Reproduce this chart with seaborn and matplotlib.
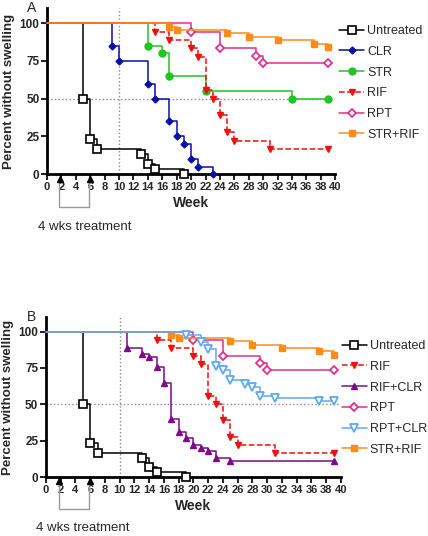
# Kaplan-Meier style curves: percent of mice without footpad swelling
import seaborn as sns
import pandas as pd
import matplotlib.pyplot as plt
import numpy as np

sns.set_style('white')
plt.rcParams['font.family'] = ['Liberation Sans', 'DejaVu Sans']

# ---- data (weeks, percent without swelling) ----
untreated_wk = [0, 5, 6, 7, 13, 14, 15, 19]
untreated_pct = [100, 50, 23.3, 16.7, 13.3, 6.7, 3.3, 0]

clr_wk = [0, 9, 10, 14, 15, 17, 18, 19, 20, 21, 23]
clr_pct = [100, 85, 75, 60, 50, 35, 25, 20, 10, 5, 0]

str_wk = [0, 14, 16, 17, 22, 34, 39]
str_pct = [100, 85, 80, 65, 55, 50, 50]

rif_wk = [0, 15, 17, 20, 21, 22, 23, 24, 25, 26, 31, 39]
rif_pct = [100, 94.4, 88.9, 83.3, 77.8, 55.6, 50, 38.9, 27.8, 22.2, 16.7, 16.7]

rpt_wk = [0, 20, 24, 29, 30, 39]
rpt_pct = [100, 94.4, 83.3, 78.5, 73.3, 73.3]

strrif_wk = [0, 17, 18, 25, 28, 32, 37, 39]
strrif_pct = [100, 97.7, 95.5, 93.2, 90.9, 88.6, 86.4, 84.1]

rifclr_wk = [0, 11, 13, 14, 15, 16, 17, 18, 19, 20, 21, 22, 23, 25, 39]
rifclr_pct = [100, 88.9, 84.4, 82.2, 75.6, 64.4, 40, 31.1, 26.7, 22.2, 20, 17.8, 13.3, 11.1, 11.1]

rptclr_wk = [0, 19, 21, 22, 23, 24, 25, 27, 28, 29, 31, 37, 39]
rptclr_pct = [100, 97.6, 92.9, 88.1, 76.2, 73.8, 66.7, 64.3, 61.9, 56.0, 54.0, 52.0, 52.0]

styles = {
    'Untreated': dict(color='black', marker='s', mfc='white', ms=5.5, ls='-', mew=1.2),
    'CLR': dict(color='#0a0fa8', marker='D', mfc='#0a0fa8', ms=3.5, ls='-', mew=1),
    'STR': dict(color='#22c322', marker='o', mfc='#22c322', ms=5, ls='-', mew=1),
    'RIF': dict(color='#f01010', marker='v', mfc='#f01010', ms=5, ls='--', mew=1),
    'RPT': dict(color='#e0308c', marker='D', mfc='white', ms=4.5, ls='-', mew=1.3),
    'STR+RIF': dict(color='#ff8c1a', marker='s', mfc='#ff8c1a', ms=5, ls='-', mew=1),
    'RIF+CLR': dict(color='#7d0a86', marker='^', mfc='#7d0a86', ms=5, ls='-', mew=1),
    'RPT+CLR': dict(color='#5fa8f0', marker='v', mfc='white', ms=5.5, ls='-', mew=1.3),
}

panel_a = [('Untreated', untreated_wk, untreated_pct), ('CLR', clr_wk, clr_pct),
           ('STR', str_wk, str_pct), ('RIF', rif_wk, rif_pct),
           ('RPT', rpt_wk, rpt_pct), ('STR+RIF', strrif_wk, strrif_pct)]
panel_b = [('Untreated', untreated_wk, untreated_pct), ('RIF', rif_wk, rif_pct),
           ('RIF+CLR', rifclr_wk, rifclr_pct), ('RPT', rpt_wk, rpt_pct),
           ('RPT+CLR', rptclr_wk, rptclr_pct), ('STR+RIF', strrif_wk, strrif_pct)]

fig = plt.figure(figsize=(4.28, 5.36), dpi=100)
axA = fig.add_axes([0.110, 0.675, 0.673, 0.310])
axB = fig.add_axes([0.1075, 0.110, 0.689, 0.2985])


def draw_panel(ax, groups, letter, top_group, leg_anchor, letter_x):
    ax.axvline(10, color='#888888', ls=':', lw=1, zorder=1)
    ax.axhline(50, color='#888888', ls=':', lw=1, zorder=1)
    for i, (name, wk, pct) in enumerate(groups):
        st = styles[name]
        df = pd.DataFrame({'Week': wk, 'Pct': pct})
        sns.lineplot(data=df, x='Week', y='Pct', ax=ax, sort=False, estimator=None,
                     drawstyle='steps-post', color=st['color'], linestyle=st['ls'],
                     lw=1.1, marker=st['marker'], ms=st['ms'], mfc=st['mfc'],
                     mec=st['color'], mew=st['mew'], markevery=list(range(1, len(wk))),
                     label=name, clip_on=False, zorder=5 if name == top_group else 3 + i * 0.1)
    ax.set_xlim(0, 40)
    ax.set_ylim(0, 110)
    ax.set_xticks(np.arange(0, 41, 2))
    ax.set_yticks([0, 25, 50, 75, 100])
    ax.tick_params(axis='both', direction='out', length=4, width=1.5, bottom=True, left=True, pad=1.5)
    for lab in ax.get_xticklabels():
        lab.set_fontweight('bold')
        lab.set_fontsize(8)
    for lab in ax.get_yticklabels():
        lab.set_fontweight('bold')
        lab.set_fontsize(8.5)
    ax.set_xlabel('Week', fontsize=10, fontweight='bold', labelpad=3)
    ax.set_ylabel('Percent without swelling', fontsize=9.5, fontweight='bold', labelpad=3)
    ax.spines['top'].set_visible(False)
    ax.spines['right'].set_visible(False)
    for s in ['left', 'bottom']:
        ax.spines[s].set_linewidth(2)
        ax.spines[s].set_color('k')
    ax.text(letter_x, 1.0, letter, transform=ax.transAxes, fontsize=10, ha='center', va='center')

    # treatment bracket under the axis
    ax.plot([1.7, 1.7, 5.8, 5.8], [-3, -22, -22, -3], color='#999999', lw=1, clip_on=False, zorder=2)
    ax.plot([1.8, 5.9], [-3, -3], ls='none', marker='^', color='black', ms=4.5, clip_on=False, zorder=6)
    ax.text(-1.3, -35, '4 wks treatment', fontsize=9.5, ha='left', va='center')

    leg = ax.legend(loc='upper left', bbox_to_anchor=leg_anchor, frameon=False,
                    fontsize=9, handlelength=2.0, handletextpad=0.25, labelspacing=0.7,
                    borderaxespad=0)
    for h in leg.legend_handles:
        h.set_markevery([1])


draw_panel(axA, panel_a, 'A', 'STR+RIF', (0.997, 0.928), -0.053)
draw_panel(axB, panel_b, 'B', 'RPT+CLR', (0.986, 0.8875), -0.048)

fig.savefig('out.png', dpi=100)
